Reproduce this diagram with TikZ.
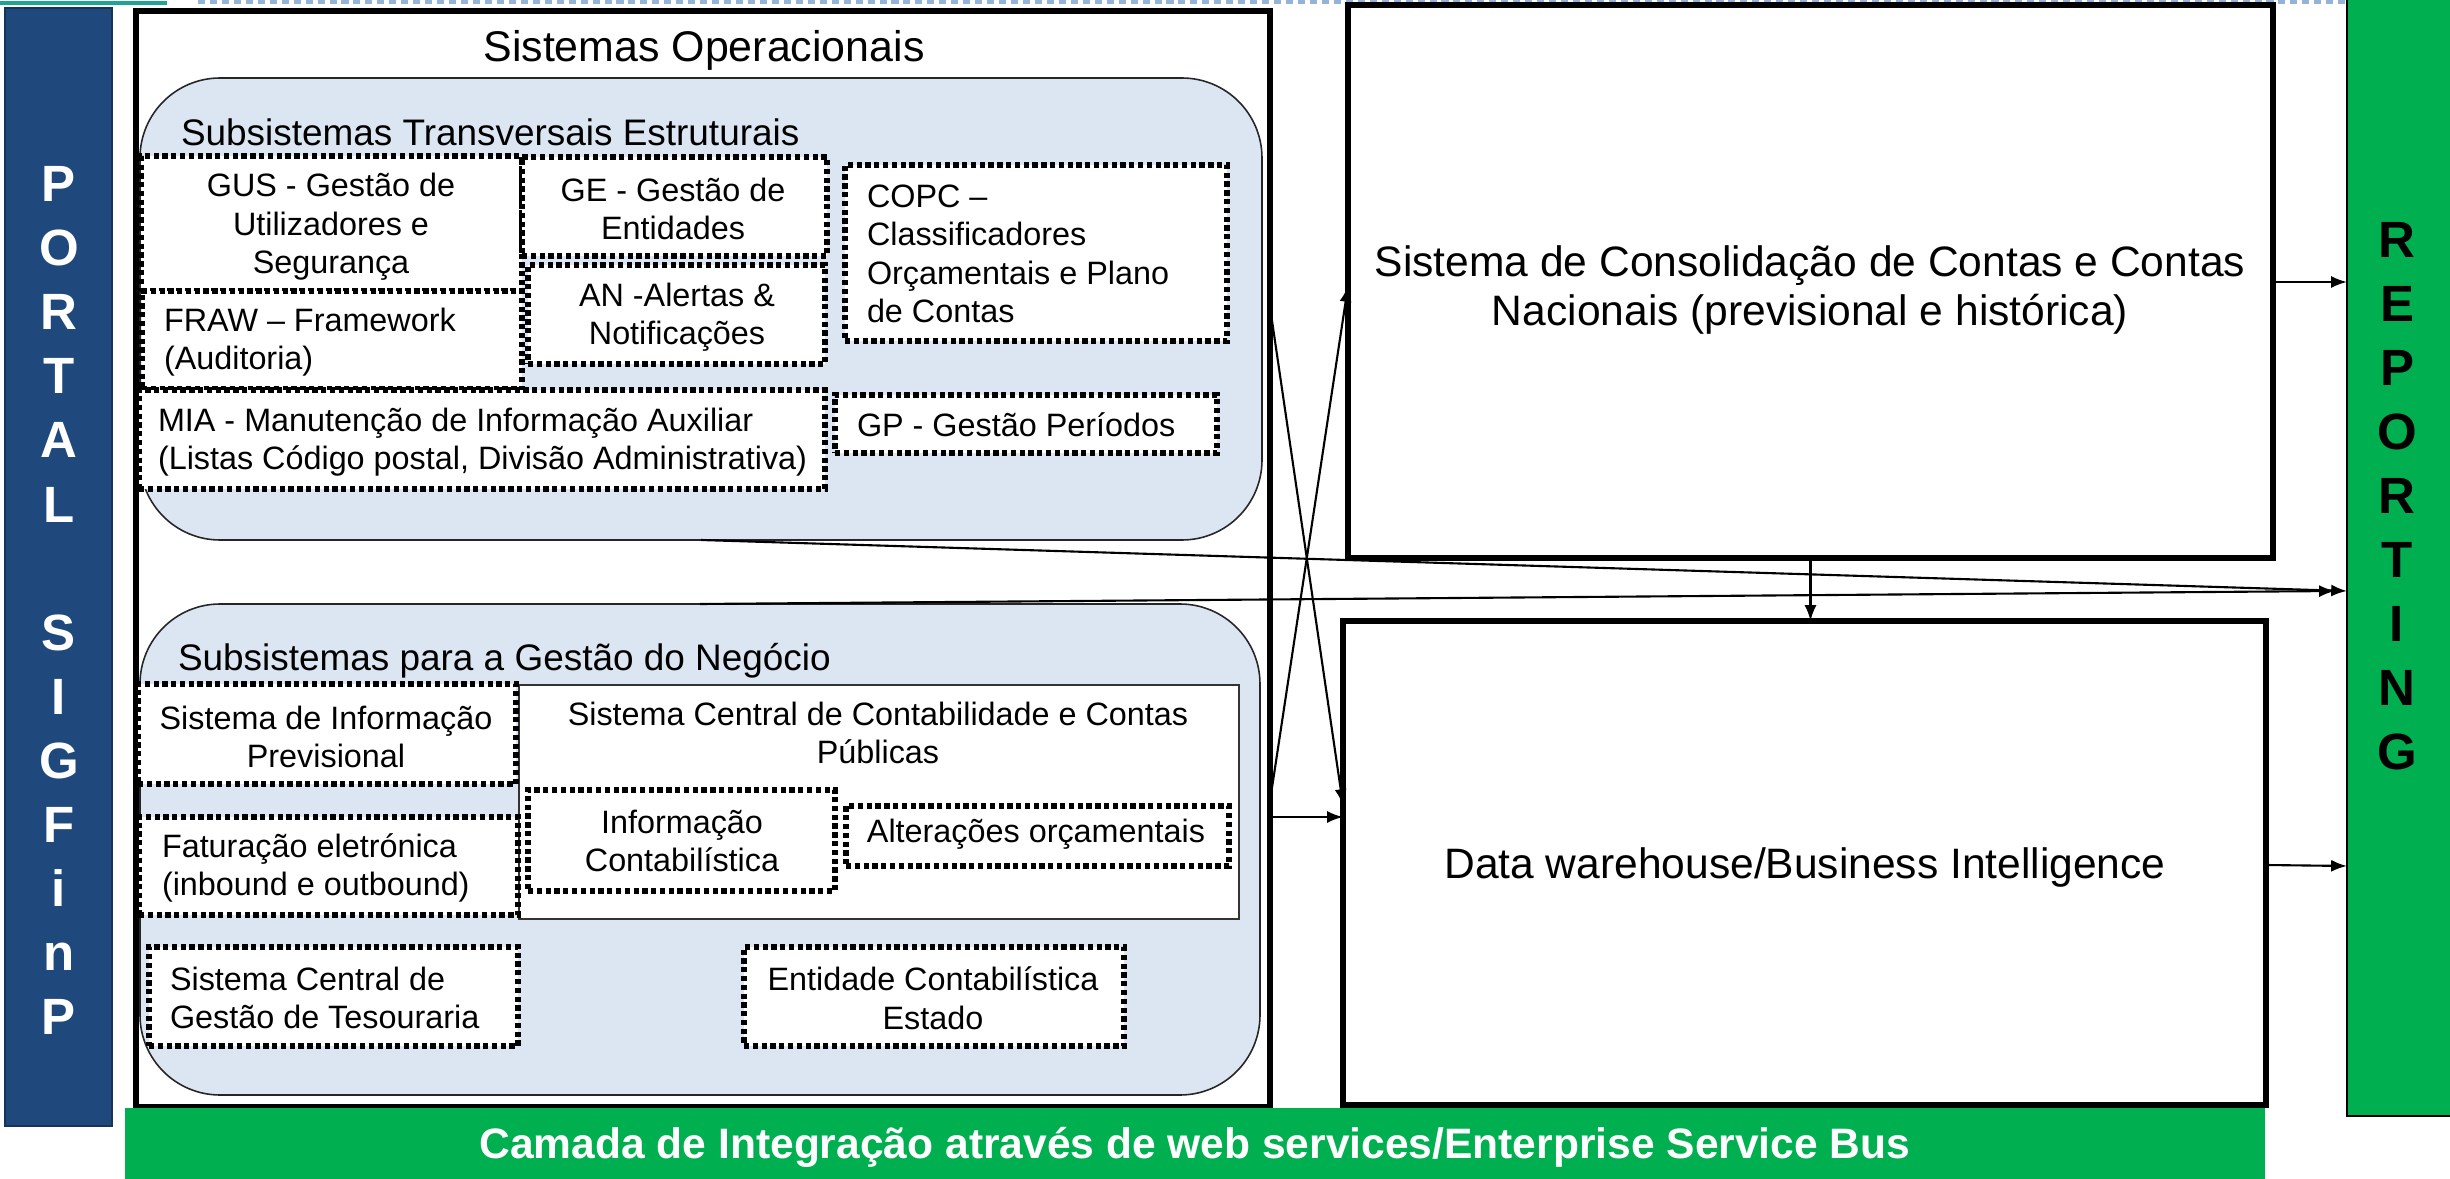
\documentclass[tikz,border=0pt]{standalone}
\usepackage{fontspec}
\setmainfont{Liberation Sans}
\usetikzlibrary{fit,arrows.meta,calc}
\definecolor{portalblue}{HTML}{1F497D}
\definecolor{repgreen}{HTML}{00B050}
\definecolor{subfill}{HTML}{DCE6F2}
\definecolor{tealline}{HTML}{1FA392}
\definecolor{topdots}{HTML}{95B3D7}
\begin{document}
\begin{tikzpicture}[x=0.01cm,y=-0.01cm,
  every node/.style={inner sep=0pt, outer sep=0pt},
  body/.style={font=\fontsize{9.2}{10.95}\selectfont},
  bigtxt/.style={font=\fontsize{12.1}{14.2}\selectfont},
  thickbox/.style={draw=black, line width=1.7pt, fill=white},
  dotbox/.style={draw=black, line width=1.55pt, dash pattern=on 1.5pt off 1.0pt, fill=white},
  thinbox/.style={draw=black!80, line width=0.5pt, fill=white},
  roundbox/.style={draw=black!85, line width=0.45pt, fill=subfill, rounded corners=0.8cm},
  conn/.style={line width=0.6pt, -{Latex[length=4.5pt,width=3.4pt]}},
  vletter/.style={font=\fontsize{14.5}{17}\selectfont\bfseries, anchor=base, text=white}
]
\useasboundingbox (0,0) rectangle (2450,1179);

% top decorations
\draw[tealline, line width=1.4pt] (0,3) -- (167,3);
\draw[topdots, line width=1.4pt, dash pattern=on 2pt off 1.4pt] (198,2) -- (2345,2);

% portal bar
\node[fill=portalblue, draw=portalblue!70!black, line width=0.4pt, fit={(5,8) (112,1126)}] (portal) {};
\foreach \ch/\k in {P/0,O/1,R/2,T/3,A/4,L/5,S/7,I/8,G/9,F/10,i/11,n/12,P/13}
  \node[vletter] (portal-\k) at (59,{202+64*\k}) {\ch};

% reporting bar
\node[fill=repgreen, draw=black, line width=0.4pt, fit={(2347,-5) (2460,1116)}] (rep) {};
\foreach \ch/\k in {R/0,E/1,P/2,O/3,R/4,T/5,I/6,N/7,G/8}
  \node[vletter, text=black] (rep-\k) at (2397,{258+63.9*\k}) {\ch};

% main box
\node[thickbox, fit={(136,11) (1270,1107)}] (so) {};
\node[font=\fontsize{12.2}{14}\selectfont] (sotitle) at (704,50) {Sistemas Operacionais};

% transversal subsystems
\node[roundbox, fit={(140,78) (1262,540)}] (st) {};
\node[font=\fontsize{10.5}{12}\selectfont, anchor=west] (stlabel) at (181,132) {Subsistemas Transversais Estruturais};

\node[dotbox, fit={(141,156) (522,291)}] (gus) {};
\node[dotbox, fit={(522,157) (827,256)}] (ge) {};
\node[dotbox, fit={(528,265) (825,364)}] (an) {};
\node[dotbox, fit={(142,291) (522,389)}] (fraw) {};
\node[dotbox, fit={(139,390) (825,489)}] (mia) {};
\node[dotbox, fit={(845,165) (1227,341)}] (copc) {};
\node[dotbox, fit={(835,395) (1217,453)}] (gp) {};

\node[body, align=center] (gustxt) at (331,227) {GUS - Gestão de\\Utilizadores e\\Segurança};
\node[body, align=center] (getxt) at (673,209) {GE - Gestão de\\Entidades};
\node[body, align=center] (antxt) at (677,317) {AN -Alertas \&\\Notificações};
\node[body, align=left, anchor=west] (frawtxt) at (164,342) {FRAW – Framework\\(Auditoria)};
\node[body, align=left, anchor=west] (miatxt) at (158,442) {MIA - Manutenção de Informação Auxiliar\\(Listas Código postal, Divisão Administrativa)};
\node[body, align=left, anchor=west] (copctxt) at (867,254) {COPC –\\Classificadores\\Orçamentais e Plano\\de Contas};
\node[body, anchor=west] (gptxt) at (857,425) {GP - Gestão Períodos};

% business subsystems
\node[roundbox, fit={(140,604) (1260,1095)}] (ng) {};
\node[font=\fontsize{10.5}{12}\selectfont, anchor=west] (nglabel) at (178,661) {Subsistemas para a Gestão do Negócio};

\node[thinbox, fit={(519,685) (1239,919)}] (scc) {};
\node[dotbox, fit={(138,684) (516,784)}] (prev) {};
\node[dotbox, fit={(139,817) (518,915)}] (fat) {};
\node[dotbox, fit={(528,790) (835,891)}] (info) {};
\node[dotbox, fit={(846,806) (1229,866)}] (alt) {};
\node[dotbox, fit={(149,947) (518,1046)}] (tes) {};
\node[dotbox, fit={(744,947) (1124,1046)}] (ent) {};

\node[body, align=center] (prevtxt) at (326,737) {Sistema de Informação\\Previsional};
\node[body, align=center] (scctxt) at (878,733) {Sistema Central de Contabilidade e Contas\\Públicas};
\node[body, align=left, anchor=west] (fattxt) at (162,868) {Faturação eletrónica\\(inbound e outbound)};
\node[body, align=center] (infotxt) at (682,841) {Informação\\Contabilística};
\node[body] (alttxt) at (1036,834) {Alterações orçamentais};
\node[body, align=left, anchor=west] (testxt) at (170,998) {Sistema Central de\\Gestão de Tesouraria};
\node[body, align=center] (enttxt) at (933,998) {Entidade Contabilística\\Estado};

% right boxes
\node[thickbox, fit={(1348,5) (2273,558)}] (cons) {};
\node[bigtxt, align=center] (constxt) at (1810,290) {Sistema de Consolidação de Contas e Contas\\Nacionais (previsional e histórica)};
\node[thickbox, fit={(1343,621) (2266,1105)}] (dw) {};
\node[font=\fontsize{12.1}{14}\selectfont] (dwtxt) at (1805,867) {Data warehouse/Business Intelligence};

% integration bar
\node[fill=repgreen, fit={(125,1108) (2265,1185)}] (esb) {};
\node[font=\fontsize{12.1}{14}\selectfont\bfseries, text=white] (esbtxt) at (1195,1147) {Camada de Integração através de web services/Enterprise Service Bus};

% connectors
\draw[conn] (st.south) -- (rep.west |- 0,591);
\draw[conn] (ng.north) -- ($(rep.west |- 0,591)+(-12,0)$);
\draw[conn] (so.east |- 0,307) -- (dw.west |- 0,805);
\draw[conn] (so.east |- 0,801) -- (cons.west |- 0,286);
\draw[conn] (so.east |- 0,817) -- (dw.west |- 0,817);
\draw[conn] (cons.east |- 0,282) -- (rep.west |- 0,282);
\draw[conn] (dw.east |- 0,865) -- (rep.west |- 0,866);
\draw[conn] (cons.south) -- (cons.south |- dw.north);
\end{tikzpicture}
\end{document}
